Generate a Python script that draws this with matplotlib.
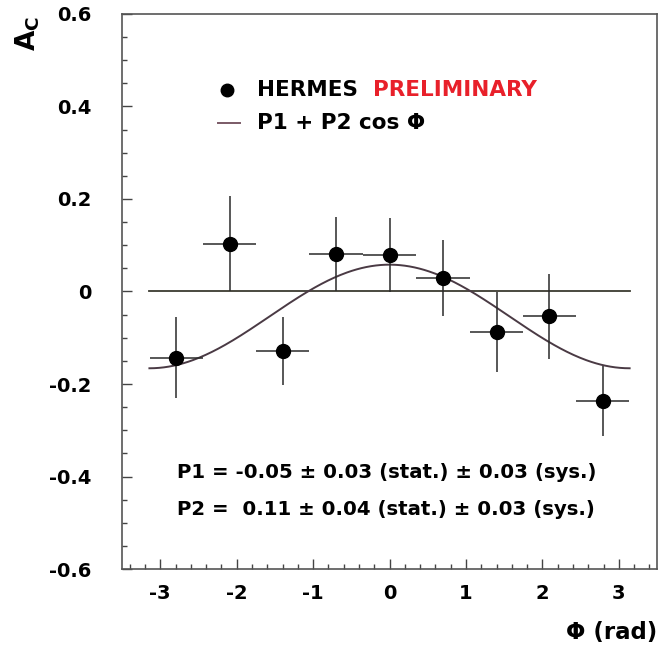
import numpy as np
import matplotlib
matplotlib.use('Agg')
import matplotlib.pyplot as plt
from matplotlib.ticker import MultipleLocator, FormatStrFormatter

plt.rcParams['font.family'] = ['DejaVu Sans']
plt.rcParams['font.weight'] = 'bold'
plt.rcParams['axes.unicode_minus'] = False
plt.rcParams['mathtext.fontset'] = 'custom'
plt.rcParams['mathtext.rm'] = 'DejaVu Sans:bold'
plt.rcParams['mathtext.bf'] = 'DejaVu Sans:bold'

# bin centres in phi (rad) and measured asymmetry
phi = [-2.79, -2.09, -1.40, -0.70, 0.0, 0.70, 1.40, 2.09, 2.79]
phi_err = [0.349, 0.349, 0.349, 0.349, 0.349, 0.349, 0.349, 0.349, 0.349]
ac = [-0.143, 0.103, -0.129, 0.081, 0.079, 0.029, -0.087, -0.054, -0.237]
ac_err = [0.088, 0.103, 0.073, 0.080, 0.080, 0.082, 0.086, 0.092, 0.075]

# fit P1 + P2 cos(phi)
p1 = -0.054
p2 = 0.112

fig = plt.figure(figsize=(6.61, 6.56), dpi=100)
ax = fig.add_axes([0.1846, 0.1326, 0.8094, 0.8461])

xc = np.linspace(-np.pi, np.pi, 300)
ax.plot([-np.pi, np.pi], [0, 0], color='#3b3a30', lw=1.3)
ax.plot(xc, p1 + p2*np.cos(xc), color='#4a3a44', lw=1.4)
ax.errorbar(phi, ac, xerr=phi_err, yerr=ac_err, fmt='o', color='black',
            ecolor='#2a2a2a', elinewidth=1.1, ms=10, capsize=0)

ax.set_xlim(-3.5, 3.5)
ax.set_ylim(-0.6, 0.6)
ax.xaxis.set_major_locator(MultipleLocator(1))
ax.xaxis.set_minor_locator(MultipleLocator(0.2))
ax.yaxis.set_major_locator(MultipleLocator(0.2))
ax.yaxis.set_minor_locator(MultipleLocator(0.05))
ax.xaxis.set_major_formatter(FormatStrFormatter('%g'))
ax.yaxis.set_major_formatter(FormatStrFormatter('%g'))
ax.tick_params(which='both', direction='in', top=False, right=False,
               color='#444444', width=1)
ax.tick_params(which='major', length=7, labelsize=14)
ax.tick_params(axis='x', which='major', pad=11)
ax.tick_params(axis='y', which='major', pad=22)
ax.tick_params(which='minor', length=3.5)
for s in ax.spines.values():
    s.set_color('#555555')
    s.set_linewidth(1.2)

# legend drawn by hand
fs = 15.5
ax.plot([-2.13], [0.436], 'o', color='black', ms=9)
ax.text(-1.735, 0.436, 'HERMES', fontsize=fs, va='center')
ax.text(-0.22, 0.436, 'PRELIMINARY', fontsize=fs, va='center', color='#e8202a')
ax.plot([-2.24, -1.96], [0.365, 0.365], color='#7a5a66', lw=1.4)
ax.text(-1.735, 0.365, 'P1 + P2 cos Φ', fontsize=fs, va='center')

ax.text(-2.78, -0.392, 'P1 = -0.05 ± 0.03 (stat.) ± 0.03 (sys.)', fontsize=14.2,
        va='center')
ax.text(-2.78, -0.472, 'P2 =  0.11 ± 0.04 (stat.) ± 0.03 (sys.)', fontsize=14.2,
        va='center')

fig.text(28/661, 1 - 16/656, r'$\mathrm{A_C}$', rotation=90, fontsize=19,
         ha='center', va='top')
fig.text(657/661, 1 - 633/656, 'Φ (rad)', fontsize=16.5, ha='right', va='center')

fig.savefig('out.png', dpi=100)
